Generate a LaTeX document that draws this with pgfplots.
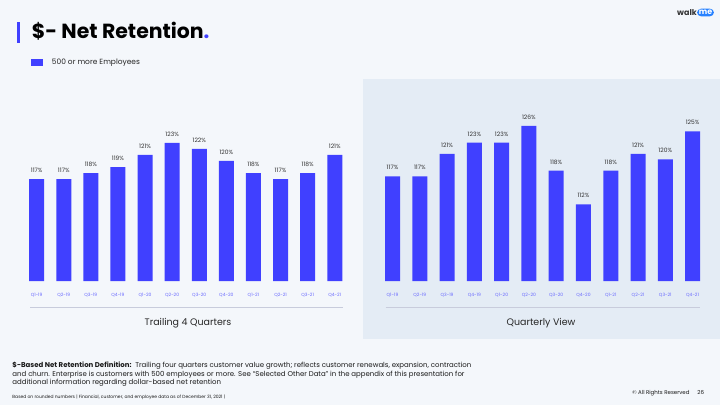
\documentclass[border=0pt]{standalone}
\usepackage{pgfplots}
\pgfplotsset{compat=1.18}
\usepackage{fontspec}
\setmainfont{Poppins}
\definecolor{bgcol}{RGB}{244,247,251}
\definecolor{panelcol}{RGB}{228,236,245}
\definecolor{barblue}{RGB}{64,64,255}
\definecolor{tickblue}{RGB}{105,105,255}
\definecolor{labgrey}{RGB}{50,50,50}
\definecolor{sepcol}{RGB}{200,204,220}
\definecolor{logoblue}{RGB}{40,130,255}
\pgfplotsset{
  netbar/.style={
    scale only axis,
    anchor=south west,
    xmin=-0.5, xmax=11.5,
    axis line style={draw=none},
    major tick length=0pt,
    ymajorticks=false,
    /pgf/number format/assume math mode=true,
    xtick={0,...,11},
    xticklabels={Q1-19,Q2-19,Q3-19,Q4-19,Q1-20,Q2-20,Q3-20,Q4-20,Q1-21,Q2-21,Q3-21,Q4-21},
    xticklabel style={font=\fontsize{4.5}{5}\selectfont, text=tickblue, anchor=north, inner sep=0pt, yshift=-12bp},
    clip=false,
    ybar, bar width=15bp,
    nodes near coords={\pgfmathprintnumber[assume math mode=true]{\pgfplotspointmeta}\%},
    nodes near coords style={font=\fontsize{6}{7}\selectfont, text=labgrey, anchor=base, inner sep=0pt, yshift=6.5bp},
  }
}
\begin{document}
\begin{tikzpicture}[x=1bp,y=1bp]
\fill[bgcol] (0,0) rectangle (720,405);
\fill[panelcol] (363.3,65.7) rectangle (720,325.7);
% title
\fill[barblue] (17.3,362.3) rectangle (20,383.3);
\node[anchor=base west, inner sep=0pt, font=\fontsize{20.5}{22}\selectfont\bfseries] at (31.7,366.7) {\$- Net Retention{\color{barblue}.}};
% logo
\node[anchor=base east, inner sep=0pt, font=\fontsize{8}{9}\selectfont\bfseries, text=black!80] at (697,389.5) {walk};
\node[anchor=center, fill=logoblue, rounded corners=4bp, inner xsep=1.8bp, inner ysep=1.5bp, text=white, font=\fontsize{8}{9}\selectfont\bfseries] at (705.5,392.5) {me};
% legend
\fill[barblue] (31,339) rectangle (43.3,345.7);
\node[anchor=west, inner sep=0pt, font=\fontsize{7.5}{9}\selectfont, text=black!85] at (51.7,342.4) {500 or more Employees};
% left chart
\begin{axis}[netbar, at={(23.1bp,124bp)}, width=325.2bp, height=180bp, ymin=100, ymax=130]
\addplot[fill=barblue, draw=none] coordinates {(0,117) (1,117) (2,118) (3,119) (4,121) (5,123) (6,122) (7,120) (8,118) (9,117) (10,118) (11,121)};
\end{axis}
% right chart
\begin{axis}[netbar, at={(378.9bp,124bp)}, width=327.3bp, height=177.5bp, ymin=98.3, ymax=130]
\addplot[fill=barblue, draw=none] coordinates {(0,117) (1,117) (2,121) (3,123) (4,123) (5,126) (6,118) (7,112) (8,118) (9,121) (10,120) (11,125)};
\end{axis}
\draw[sepcol, line width=0.8bp] (30,98) -- (342.7,98);
\draw[sepcol, line width=0.8bp] (385.7,98) -- (700,98);
\node[font=\fontsize{9.5}{11}\selectfont, text=black!85] at (188,81.7) {Trailing 4 Quarters};
\node[font=\fontsize{9.5}{11}\selectfont, text=black!85] at (541,81.7) {Quarterly View};
% footnotes
\begin{scope}[every node/.style={anchor=base west, inner sep=0pt, font=\fontsize{7}{8}\selectfont, text=black!90}]
\node at (12.3,37.3) {\textbf{\$-Based Net Retention Definition:}\ \ Trailing four quarters customer value growth; reflects customer renewals, expansion, contraction};
\node at (12.3,29) {and churn. Enterprise is customers with 500 employees or more. See “Selected Other Data” in the appendix of this presentation for};
\node at (12.3,20.7) {additional information regarding dollar-based net retention};
\end{scope}
\node[anchor=base west, inner sep=0pt, font=\fontsize{4.5}{5}\selectfont, text=black!90] at (12.3,6.8) {Based on rounded numbers | Financial, customer, and employee data as of December 31, 2021 |};
\node[anchor=base east, inner sep=0pt, font=\fontsize{5.5}{6}\selectfont, text=black!90] at (704.3,10.5) {© All Rights Reserved\hspace{8bp}26};
\end{tikzpicture}
\end{document}
